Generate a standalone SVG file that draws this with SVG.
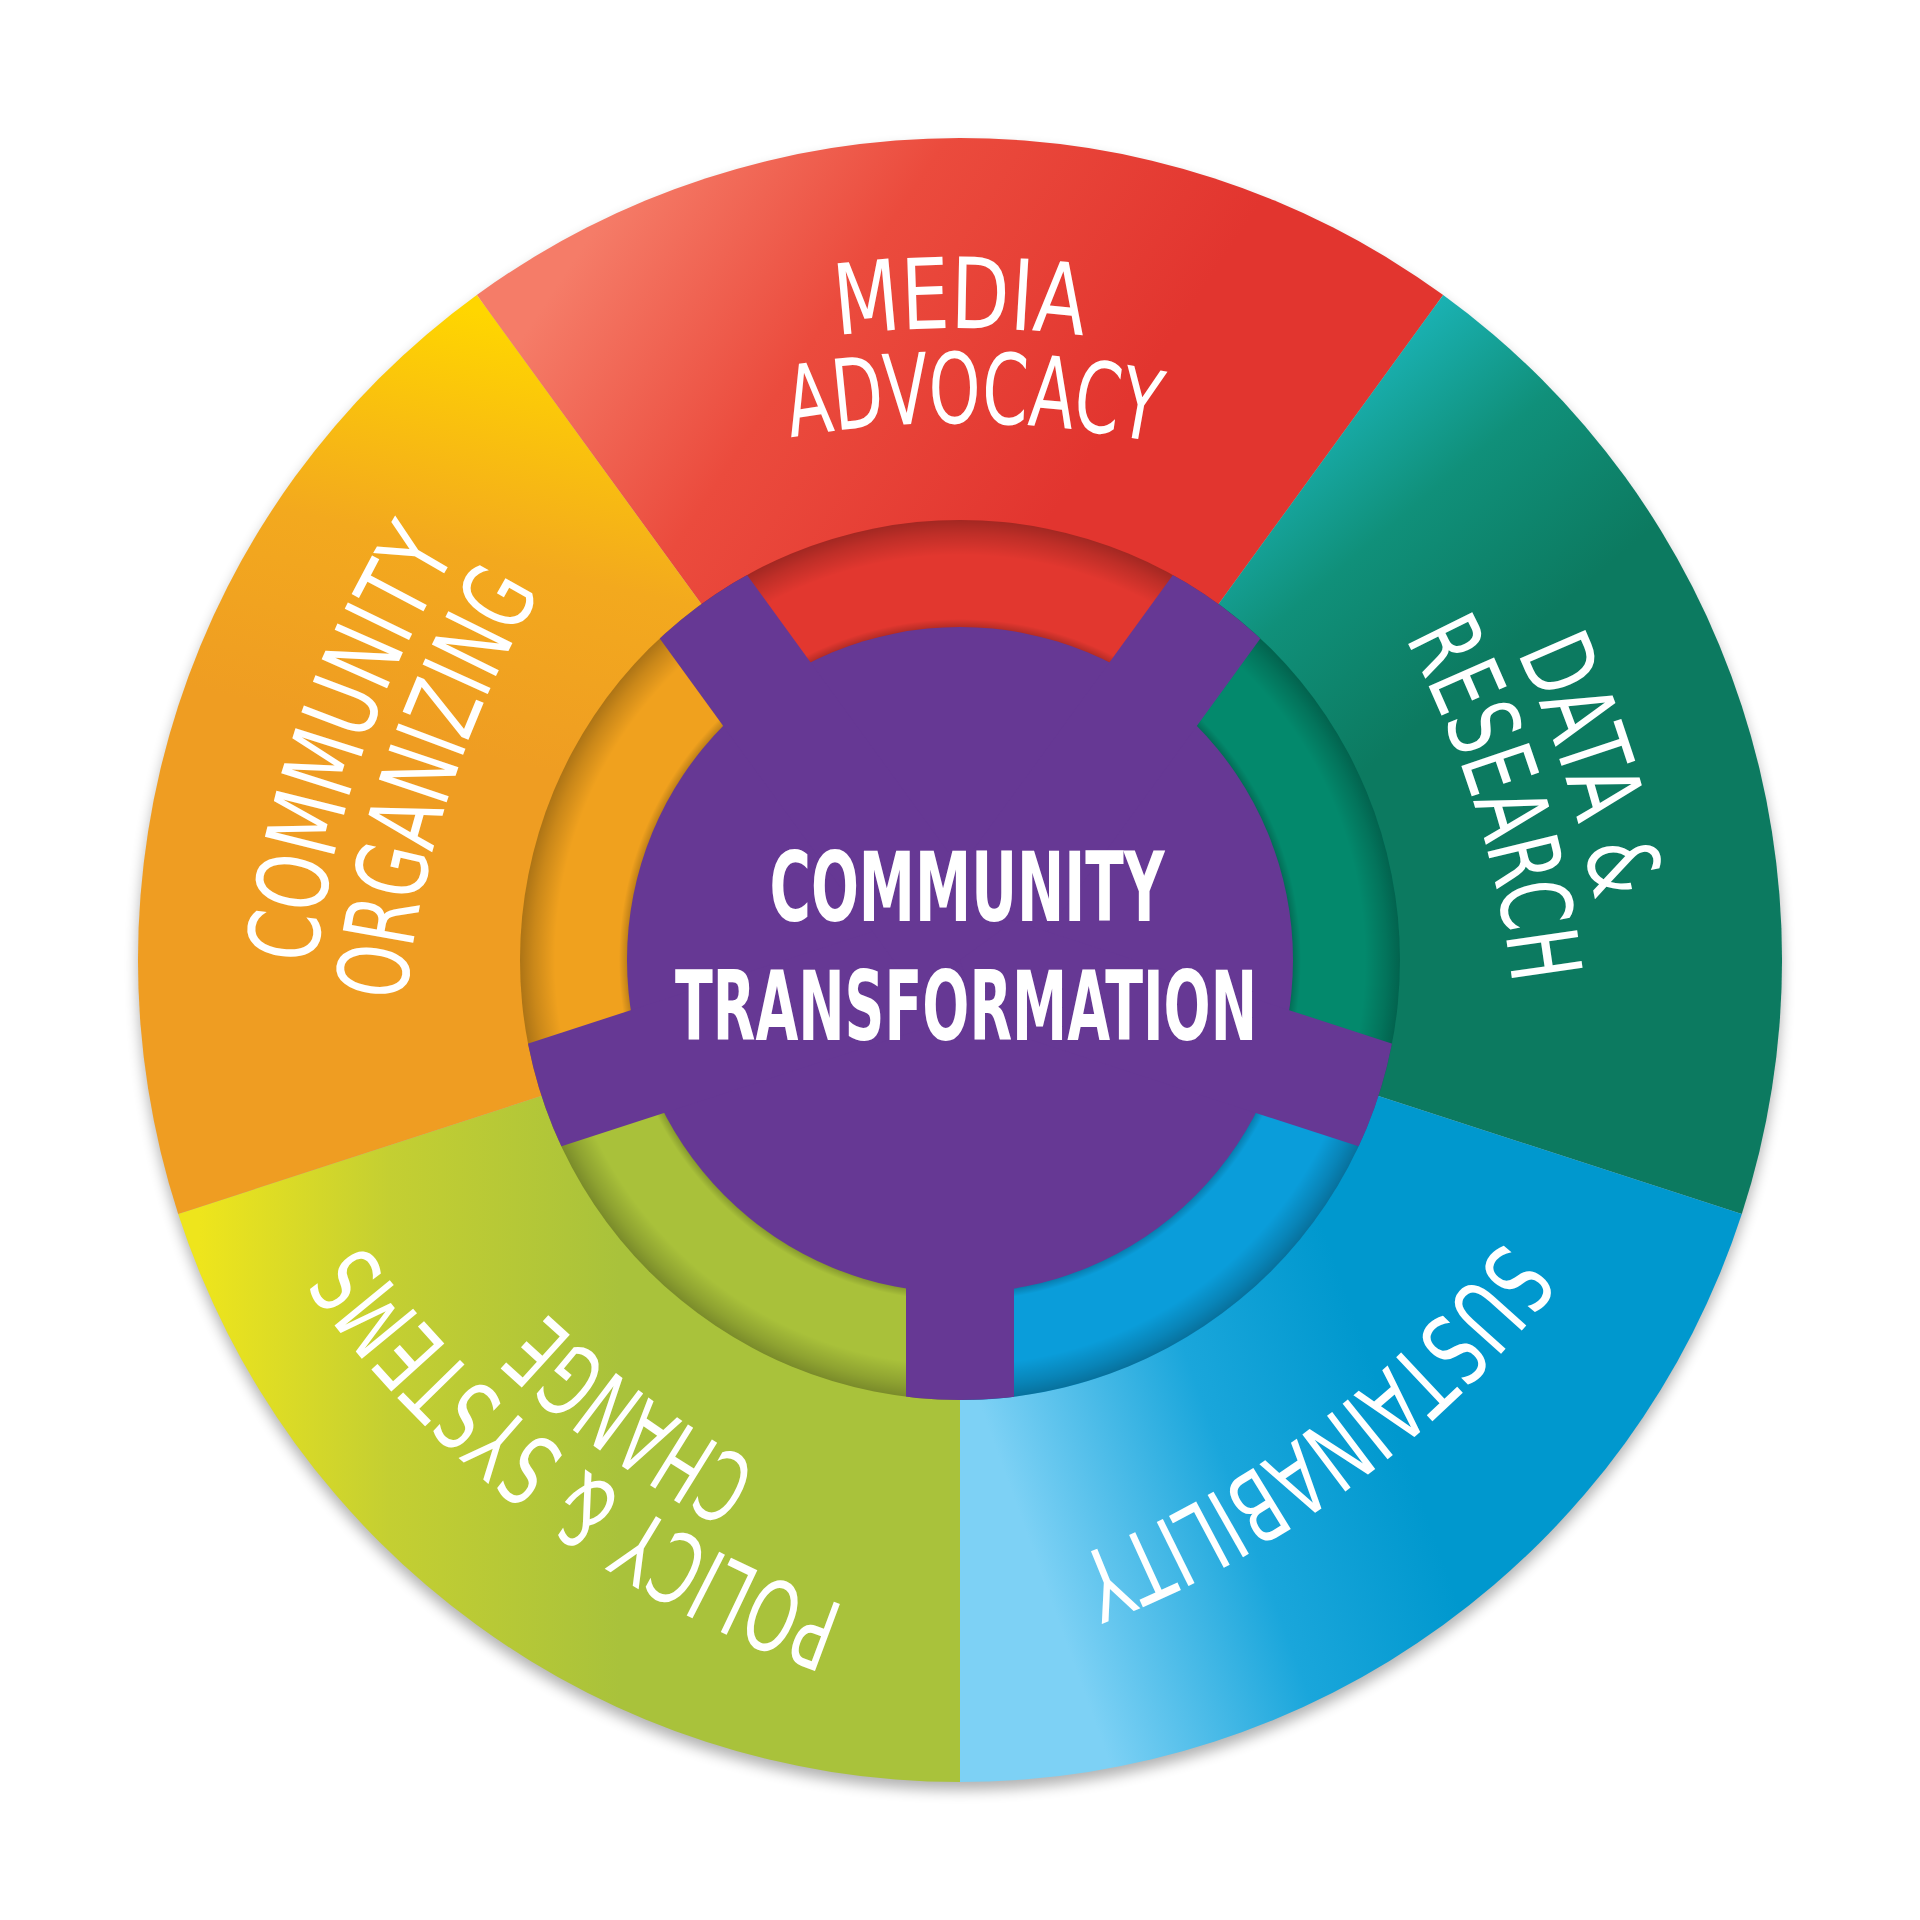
<svg xmlns="http://www.w3.org/2000/svg" width="1920" height="1920" viewBox="0 0 1920 1920">
<style>
.lbl{fill:#fff;font-family:"Liberation Sans Narrow","DejaVu Sans Condensed","Liberation Sans",sans-serif;font-size:98px;font-weight:400}
.ctr{fill:#fff;font-family:"Liberation Sans Narrow","DejaVu Sans Condensed","Liberation Sans",sans-serif;font-size:97px;font-weight:700;text-anchor:middle}
.purple{fill:#663894}
</style>
<defs>
<filter id="drop" x="-10%" y="-10%" width="120%" height="120%">
<feGaussianBlur stdDeviation="7"/>
</filter>
<linearGradient id="gMedia" gradientUnits="userSpaceOnUse" x1="600" y1="220" x2="1050" y2="520">
<stop offset="0" stop-color="#F57C68"/><stop offset="0.45" stop-color="#EB4B3D"/><stop offset="1" stop-color="#E2352F"/>
</linearGradient>
<linearGradient id="gData" gradientUnits="userSpaceOnUse" x1="1300" y1="380" x2="1520" y2="640">
<stop offset="0" stop-color="#1CB8BE"/><stop offset="0.5" stop-color="#10907A"/><stop offset="1" stop-color="#0C7A60"/>
</linearGradient>
<linearGradient id="gSust" gradientUnits="userSpaceOnUse" x1="1000" y1="1460" x2="1360" y2="1330">
<stop offset="0" stop-color="#7DD1F5"/><stop offset="0.55" stop-color="#1AA6DB"/><stop offset="1" stop-color="#0098CE"/>
</linearGradient>
<linearGradient id="gPol" gradientUnits="userSpaceOnUse" x1="200" y1="1300" x2="620" y2="1300">
<stop offset="0" stop-color="#EEE51C"/><stop offset="0.45" stop-color="#C4CF32"/><stop offset="1" stop-color="#A9C23B"/>
</linearGradient>
<linearGradient id="gCom" gradientUnits="userSpaceOnUse" x1="430" y1="300" x2="330" y2="720">
<stop offset="0" stop-color="#FFD600"/><stop offset="0.55" stop-color="#F3A91E"/><stop offset="1" stop-color="#EF9D22"/>
</linearGradient>
<radialGradient id="recess" gradientUnits="userSpaceOnUse" cx="960" cy="960" r="440">
<stop offset="0" stop-color="#000" stop-opacity="0"/>
<stop offset="0.755" stop-color="#000" stop-opacity="0.22"/>
<stop offset="0.775" stop-color="#000" stop-opacity="0"/>
<stop offset="0.92" stop-color="#000" stop-opacity="0"/>
<stop offset="0.97" stop-color="#000" stop-opacity="0.16"/>
<stop offset="1" stop-color="#000" stop-opacity="0.28"/>
</radialGradient>
<clipPath id="ringClip"><circle cx="960" cy="960" r="440"/></clipPath>
<path id="arcOuter" d="M525,427.6 A1000,1000 0 0 1 1395,427.6"/>
<path id="arcInner" d="M525,522.6 A1000,1000 0 0 1 1395,522.6"/>
<path id="arcSingle" d="M525,474.6 A1000,1000 0 0 1 1395,474.6"/>
</defs>

<circle cx="960" cy="968" r="822" fill="#000" opacity="0.3" filter="url(#drop)"/>

<g id="outer-ring">
<path d="M960,960 L476.8,295 A822,822 0 0 1 1443.2,295 Z" fill="url(#gMedia)"/>
<path d="M960,960 L1443.2,295 A822,822 0 0 1 1741.8,1214 Z" fill="url(#gData)"/>
<path d="M960,960 L1741.8,1214 A822,822 0 0 1 960,1782 Z" fill="url(#gSust)"/>
<path d="M960,960 L960,1782 A822,822 0 0 1 178.2,1214 Z" fill="url(#gPol)"/>
<path d="M960,960 L178.2,1214 A822,822 0 0 1 476.8,295 Z" fill="url(#gCom)"/>
</g>

<g id="inner-ring">
<path d="M960,960 L701.4,604 A440,440 0 0 1 1218.6,604 Z" fill="#E2372F"/>
<path d="M960,960 L1218.6,604 A440,440 0 0 1 1378.5,1096 Z" fill="#03896C"/>
<path d="M960,960 L1378.5,1096 A440,440 0 0 1 960,1400 Z" fill="#0A9DDA"/>
<path d="M960,960 L960,1400 A440,440 0 0 1 541.5,1096 Z" fill="#A9C13A"/>
<path d="M960,960 L541.5,1096 A440,440 0 0 1 701.4,604 Z" fill="#F0A11E"/>
<circle cx="960" cy="960" r="440" fill="url(#recess)"/>
</g>

<g id="center-hub" clip-path="url(#ringClip)">
<circle class="purple" cx="960" cy="960" r="333"/>
<rect class="purple" x="906" y="500" width="108" height="460" transform="rotate(36 960 960)"/>
<rect class="purple" x="906" y="500" width="108" height="460" transform="rotate(108 960 960)"/>
<rect class="purple" x="906" y="500" width="108" height="460" transform="rotate(180 960 960)"/>
<rect class="purple" x="906" y="500" width="108" height="460" transform="rotate(252 960 960)"/>
<rect class="purple" x="906" y="500" width="108" height="460" transform="rotate(324 960 960)"/>
<text class="ctr" x="967" y="921" textLength="395" lengthAdjust="spacingAndGlyphs">COMMUNITY</text>
<text class="ctr" x="966" y="1040" textLength="582" lengthAdjust="spacingAndGlyphs">TRANSFORMATION</text>
</g>

<g id="label-media">
<text class="lbl"><textPath href="#arcOuter" startOffset="450" text-anchor="middle" textLength="247" lengthAdjust="spacingAndGlyphs">MEDIA</textPath></text>
<text class="lbl"><textPath href="#arcInner" startOffset="463" text-anchor="middle" textLength="366" lengthAdjust="spacingAndGlyphs">ADVOCACY</textPath></text>
</g>
<g id="label-data" transform="rotate(72 960 960)">
<text class="lbl"><textPath href="#arcOuter" startOffset="460" text-anchor="middle" textLength="262" lengthAdjust="spacingAndGlyphs">DATA &amp;</textPath></text>
<text class="lbl"><textPath href="#arcInner" startOffset="463" text-anchor="middle" textLength="365" lengthAdjust="spacingAndGlyphs">RESEARCH</textPath></text>
</g>
<g id="label-sustainability" transform="rotate(144 960 960)">
<text class="lbl"><textPath href="#arcSingle" startOffset="441" text-anchor="middle" textLength="540" lengthAdjust="spacingAndGlyphs">SUSTAINABILITY</textPath></text>
</g>
<g id="label-policy" transform="rotate(216 960 960)">
<text class="lbl"><textPath href="#arcOuter" startOffset="466" text-anchor="middle" textLength="615" lengthAdjust="spacingAndGlyphs">POLICY &amp; SYSTEMS</textPath></text>
<text class="lbl"><textPath href="#arcInner" startOffset="446" text-anchor="middle" textLength="265" lengthAdjust="spacingAndGlyphs">CHANGE</textPath></text>
</g>
<g id="label-community" transform="rotate(288 960 960)">
<text class="lbl"><textPath href="#arcOuter" startOffset="465" text-anchor="middle" textLength="440" lengthAdjust="spacingAndGlyphs">COMMUNITY</textPath></text>
<text class="lbl"><textPath href="#arcInner" startOffset="455" text-anchor="middle" textLength="435" lengthAdjust="spacingAndGlyphs">ORGANIZING</textPath></text>
</g>
<g id="connectors"/>
</svg>
